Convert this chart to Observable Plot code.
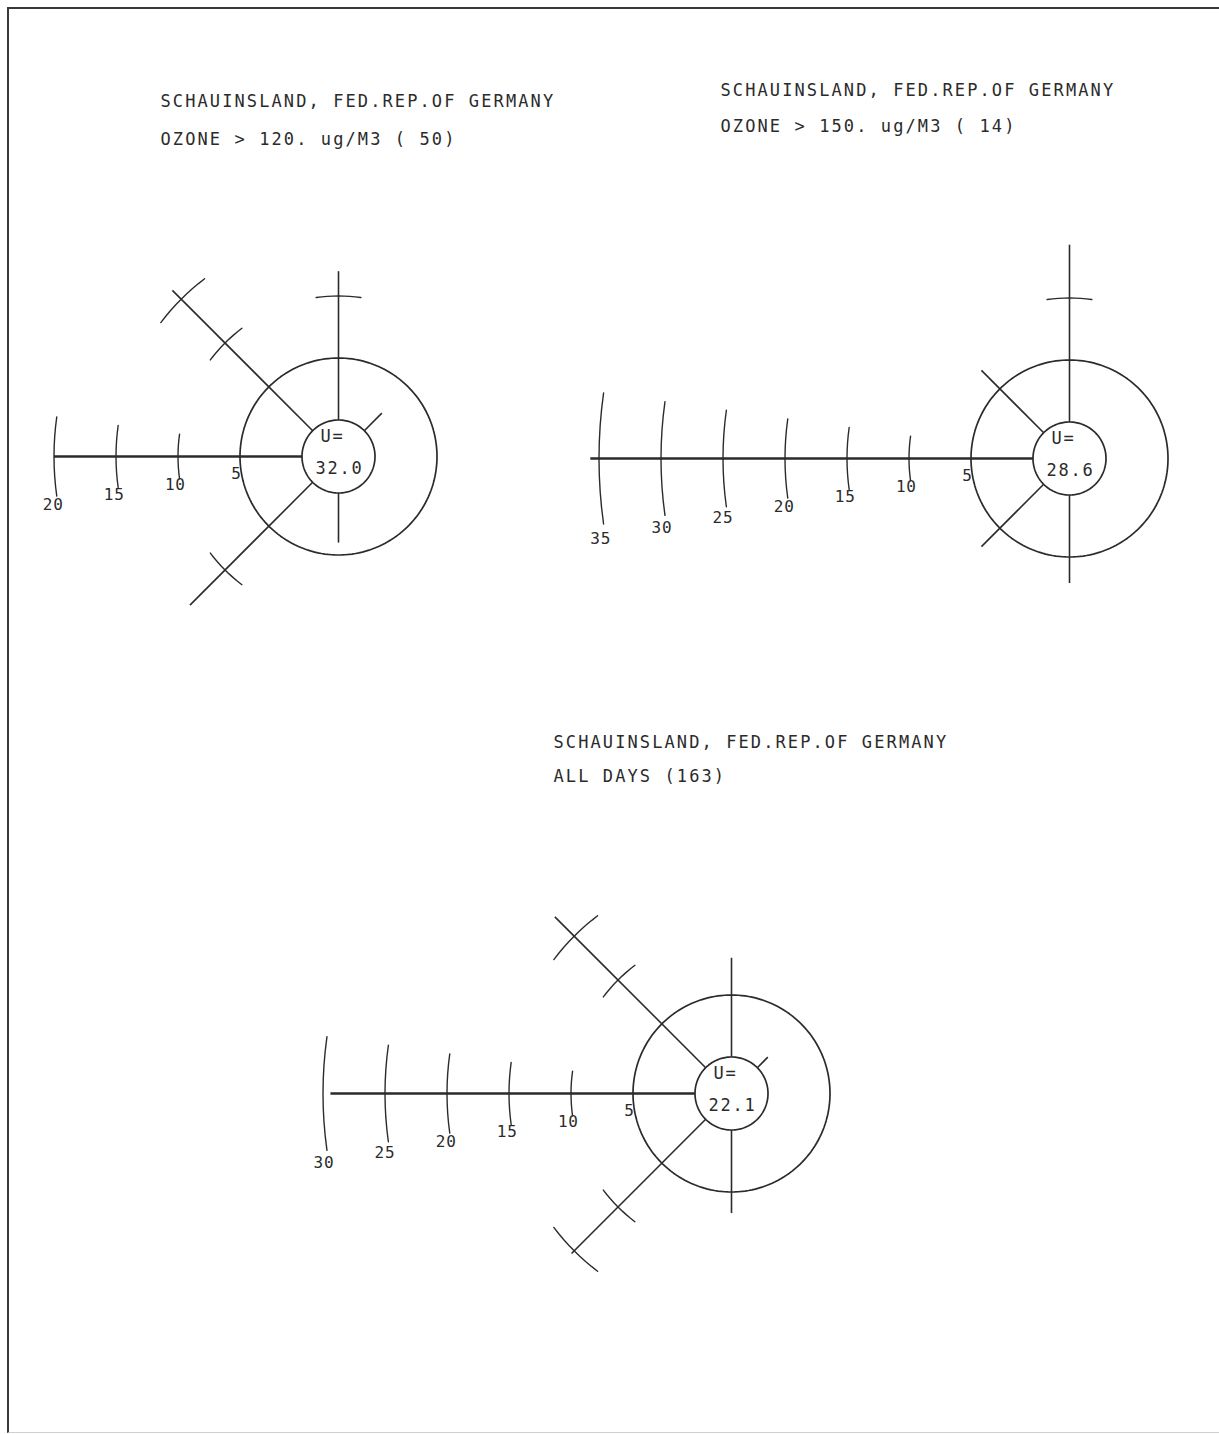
<!DOCTYPE html>
<html><head><meta charset="utf-8">
<script src="https://cdn.jsdelivr.net/npm/d3@7"></script>
<script src="https://cdn.jsdelivr.net/npm/@observablehq/plot@0.6"></script>
<style>
html,body{margin:0;padding:0;background:#fff;}
#wrap{position:relative;width:1219px;height:1434px;overflow:hidden;background:#fff;}
#frame{position:absolute;left:7px;top:7px;width:1300px;height:1423px;border-top:2.5px solid #3a3a3a;border-left:2.5px solid #3a3a3a;border-bottom:1.5px solid #cfcfcf;}
#chart{position:absolute;left:0;top:0;}
</style></head><body>
<div id="wrap"><div id="frame"></div><div id="chart"></div></div>
<script>
// ---- data ----
const directions = ["N", "NE", "E", "SE", "S", "SW", "W", "NW"];
const bearings = [0, 45, 90, 135, 180, 225, 270, 315];
// frequency of wind direction (%), per rose
const rose1 = [12.0, 2.0, 0, 0, 4.0, 14.0, 20.0, 16.0];   // ozone > 120 ug/m3, 50 days
const rose2 = [14.3, 0, 0, 0, 7.1, 7.1, 35.7, 7.1];      // ozone > 150 ug/m3, 14 days
const rose3 = [8.0, 1.2, 0, 0, 6.7, 15.3, 29.4, 17.2];    // all days, 163 days
const calm = [32.0, 28.6, 22.1];                          // U= (calm, %)
const titleLine1 = ["SCHAUINSLAND, FED.REP.OF GERMANY", "SCHAUINSLAND, FED.REP.OF GERMANY", "SCHAUINSLAND, FED.REP.OF GERMANY"];
const titleLine2 = ["OZONE > 120. ug/M3 ( 50)", "OZONE > 150. ug/M3 ( 14)", "ALL DAYS (163)"];
const tickStep = 5;

// ---- layout ----
const W = 1219, H = 1434;
const centers = [[338, 456], [1069, 458], [731, 1093]];
const titlePos = [[160, 101, 139.5], [720, 90, 126.5], [553, 742, 776.5]];
const roses = [rose1, rose2, rose3];
const radius = d3.scaleLinear().domain([0, 5]).range([36.5, 98.5]); // percent -> px from centre
const tickHalf = 8;      // degrees, half-extent of arc ticks
const labelAngle = 9.7;  // degrees below west axis for scale labels

const rad = d => d * Math.PI / 180;
const pt = (c, b, r) => ({x: c[0] + r * Math.sin(rad(b)), y: c[1] - r * Math.cos(rad(b))});

const arms = [], armsW = [], ticks = [], circles = [], scaleLabels = [], calmText = [], titles = [];
roses.forEach((vals, i) => {
  const c = centers[i];
  vals.forEach((v, j) => {
    if (v <= 0) return;
    const b = bearings[j];
    const isW = directions[j] === "W";
    const p0 = pt(c, b, radius(0)), p1 = pt(c, b, radius(v));
    (isW ? armsW : arms).push({x1: p0.x, y1: p0.y, x2: p1.x, y2: p1.y});
    const maxT = isW ? Math.round(v / tickStep) * tickStep : Math.floor(v / tickStep) * tickStep;
    for (let t = 2 * tickStep; t <= maxT + 1e-9; t += tickStep) {
      const id = `t${i}-${j}-${t}`;
      for (let a = -tickHalf; a <= tickHalf + 1e-9; a += 2) {
        const p = pt(c, b + a, radius(t));
        ticks.push({id, x: p.x, y: p.y});
      }
    }
    if (isW) {
      for (let t = tickStep; t <= maxT + 1e-9; t += tickStep) {
        const p = pt(c, b - labelAngle, radius(t) + 5);
        scaleLabels.push({x: p.x, y: p.y, text: String(t)});
      }
    }
  });
  [0, 5].forEach(v => {
    for (let a = 0; a <= 360; a += 2) {
      const p = pt(c, a, radius(v));
      circles.push({id: `c${i}-${v}`, x: p.x, y: p.y});
    }
  });
  calmText.push({x: c[0] - 6, y: c[1] - 20, text: "U="});
  calmText.push({x: c[0] + 1, y: c[1] + 12, text: calm[i].toFixed(1)});
  titles.push({x: titlePos[i][0], y: titlePos[i][1], text: titleLine1[i]});
  titles.push({x: titlePos[i][0], y: titlePos[i][2], text: titleLine2[i]});
});

const ink = "#2b2b2b";
const font = "DejaVu Sans Mono";
const chart = Plot.plot({
  width: W, height: H, margin: 0,
  style: {background: "transparent"},
  x: {domain: [0, W], range: [0, W], axis: null},
  y: {domain: [0, H], range: [0, H], axis: null},
  marks: [
    Plot.line(circles, {x: "x", y: "y", z: "id", stroke: ink, strokeWidth: 1.7, curve: "linear"}),
    Plot.link(arms, {x1: "x1", y1: "y1", x2: "x2", y2: "y2", stroke: ink, strokeWidth: 1.6}),
    Plot.link(armsW, {x1: "x1", y1: "y1", x2: "x2", y2: "y2", stroke: ink, strokeWidth: 2.6}),
    Plot.line(ticks, {x: "x", y: "y", z: "id", stroke: ink, strokeWidth: 1.4}),
    Plot.text(scaleLabels, {x: "x", y: "y", text: "text", fill: ink, fontSize: 16, fontFamily: font}),
    Plot.text(calmText, {x: "x", y: "y", text: "text", fill: ink, fontSize: 17, fontFamily: font}),
    Plot.text(titles, {x: "x", y: "y", text: "text", fill: ink, fontSize: 17, fontFamily: font, textAnchor: "start"})
  ]
});
// plotter-like letter spacing for the three text layers (scale labels, calm, titles)
const textGroups = chart.querySelectorAll('g[aria-label="text"]');
const spacing = ["0.8px", "1.8px", "2.1px"];
textGroups.forEach((g, k) => { g.style.letterSpacing = spacing[k] || "0px"; });
document.getElementById("chart").appendChild(chart);
</script>
</body></html>
